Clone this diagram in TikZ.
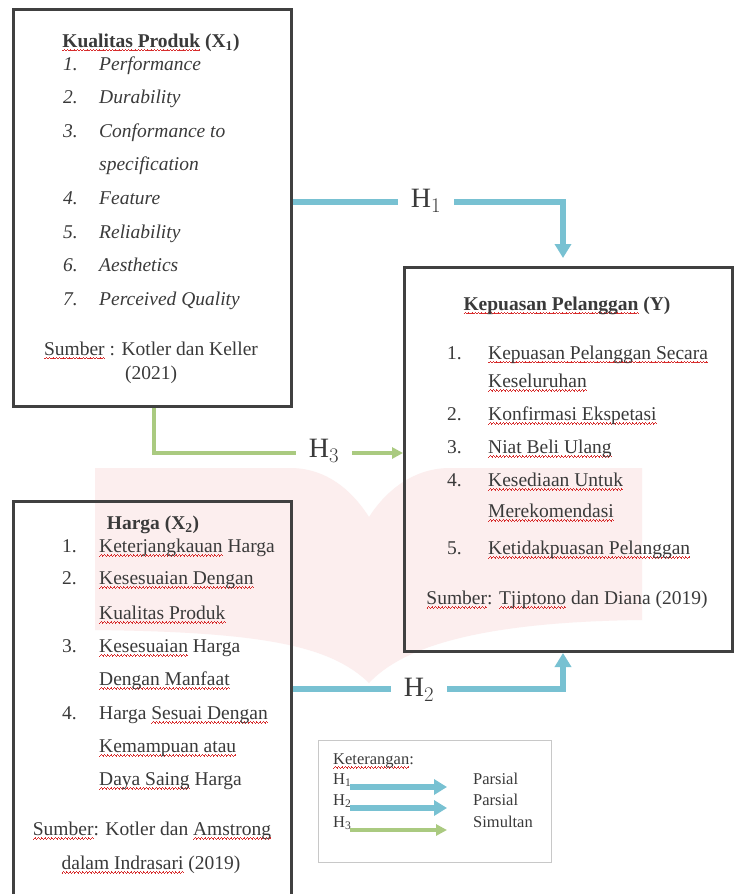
\documentclass[tikz,border=0pt]{standalone}
\usepackage{fontspec}
\setmainfont{Liberation Serif}
\usetikzlibrary{arrows.meta}
\definecolor{txt}{RGB}{58,58,58}
\definecolor{boxc}{RGB}{64,64,64}
\definecolor{hblue}{RGB}{120,193,210}
\definecolor{hgreen}{RGB}{170,202,128}
\definecolor{wm}{RGB}{252,238,238}
\definecolor{sqred}{RGB}{215,45,45}
\definecolor{legc}{RGB}{200,200,200}
\newlength\sqlen
\newcommand\sqpat{\hbox{\rule[-3.8pt]{0.8pt}{0.6pt}\rule[-3.2pt]{0.8pt}{0.6pt}\rule[-2.6pt]{0.8pt}{0.6pt}\rule[-3.2pt]{0.8pt}{0.6pt}}}
\newcommand\sq[1]{\settowidth\sqlen{#1}\leavevmode\rlap{\color{sqred}\hbox to \sqlen{\xleaders\sqpat\hfil}}#1}
\tikzset{
  box/.style={draw=boxc, line width=3pt, anchor=north west, inner sep=0pt},
  itm/.style={anchor=mid west, inner sep=0pt, text=txt, font=\fontsize{19.5}{22}\selectfont},
  itmi/.style={itm, font=\fontsize{19.5}{22}\selectfont\itshape},
  ctr/.style={anchor=mid, inner sep=0pt, text=txt, font=\fontsize{19.5}{22}\selectfont},
  leg/.style={anchor=mid west, inner sep=0pt, text=txt, font=\fontsize{16.5}{19}\selectfont},
  hl/.style={font=\fontsize{28}{32}\selectfont, text=txt, inner xsep=13pt, inner ysep=0pt},
  bline/.style={draw=hblue, line width=6pt},
  gline/.style={draw=hgreen, line width=4pt},
  btip/.style={-{Triangle[width=16pt,length=14pt]}},
  gtip/.style={-{Triangle[width=11pt,length=11pt]}},
}
\begin{document}
\begin{tikzpicture}[x=1pt,y=-1pt]
\useasboundingbox (0,0) rectangle (735,894);
\clip (0,0) rectangle (735,894);
\fill[white] (0,0) rectangle (735,894);
% watermark
\fill[wm] (95,468) -- (290,468) .. controls (330,468) and (355,495) .. (369,517)
  .. controls (383,495) and (410,468) .. (450,468) -- (642,468) -- (642,620)
  .. controls (470,622) and (400,650) .. (369,683)
  .. controls (330,645) and (260,632) .. (95,630) -- cycle;

% boxes
\node[box, minimum width=278pt, minimum height=397pt] (b1) at (12,8) {};
\node[box, minimum width=278pt, minimum height=430pt] (b2) at (12,500) {};
\node[box, minimum width=328pt, minimum height=384pt] (b3) at (403,266) {};

% box 1 text
\node[ctr] (b1t) at (151,45) {\textbf{\sq{Kualitas Produk} (X\textsubscript{1})}};
\node[itmi] (b1n1) at (63,68) {1.};  \node[itmi] (b1i1) at (99,68) {Performance};
\node[itmi] (b1n2) at (63,101) {2.}; \node[itmi] (b1i2) at (99,101) {Durability};
\node[itmi] (b1n3) at (63,135) {3.}; \node[itmi] (b1i3) at (99,135) {Conformance to};
\node[itmi] (b1i3b) at (99,168) {specification};
\node[itmi] (b1n4) at (63,202) {4.}; \node[itmi] (b1i4) at (99,202) {Feature};
\node[itmi] (b1n5) at (63,236) {5.}; \node[itmi] (b1i5) at (99,236) {Reliability};
\node[itmi] (b1n6) at (63,269) {6.}; \node[itmi] (b1i6) at (99,269) {Aesthetics};
\node[itmi] (b1n7) at (63,303) {7.}; \node[itmi] (b1i7) at (99,303) {Perceived Quality};
\node[ctr] (b1s1) at (151,353) {\sq{Sumber} : Kotler dan Keller};
\node[ctr] (b1s2) at (151,377) {(2021)};

% box 3 text
\node[ctr] (b3t) at (567,308) {\textbf{\sq{Kepuasan Pelanggan} (Y)}};
\node[itm] (b3n1) at (447,357) {1.}; \node[itm] (b3i1) at (488,357) {\sq{Kepuasan Pelanggan Secara}};
\node[itm] (b3i1b) at (488,385) {\sq{Keseluruhan}};
\node[itm] (b3n2) at (447,418) {2.}; \node[itm] (b3i2) at (488,418) {\sq{Konfirmasi Ekspetasi}};
\node[itm] (b3n3) at (447,451) {3.}; \node[itm] (b3i3) at (488,451) {\sq{Niat Beli Ulang}};
\node[itm] (b3n4) at (447,484) {4.}; \node[itm] (b3i4) at (488,484) {\sq{Kesediaan Untuk}};
\node[itm] (b3i4b) at (488,515) {\sq{Merekomendasi}};
\node[itm] (b3n5) at (447,552) {5.}; \node[itm] (b3i5) at (488,552) {\sq{Ketidakpuasan Pelanggan}};
\node[ctr] (b3s) at (567,602) {\sq{Sumber}: \sq{Tjiptono} dan Diana (2019)};

% box 2 text
\node[ctr] (b2t) at (153,527) {\textbf{Harga (X\textsubscript{2})}};
\node[itm] (b2n1) at (62,550) {1.}; \node[itm] (b2i1) at (99,550) {\sq{Keterjangkauan} Harga};
\node[itm] (b2n2) at (62,582) {2.}; \node[itm] (b2i2) at (99,582) {\sq{Kesesuaian Dengan}};
\node[itm] (b2i2b) at (99,617) {\sq{Kualitas Produk}};
\node[itm] (b2n3) at (62,650) {3.}; \node[itm] (b2i3) at (99,650) {\sq{Kesesuaian} Harga};
\node[itm] (b2i3b) at (99,683) {\sq{Dengan Manfaat}};
\node[itm] (b2n4) at (62,717) {4.}; \node[itm] (b2i4) at (99,717) {Harga \sq{Sesuai Dengan}};
\node[itm] (b2i4b) at (99,750) {\sq{Kemampuan atau}};
\node[itm] (b2i4c) at (99,783) {\sq{Daya Saing} Harga};
\node[ctr] (b2s1) at (152,833) {\sq{Sumber}: Kotler dan \sq{Amstrong}};
\node[ctr] (b2s2) at (151,867) {\sq{dalam Indrasari} (2019)};

% hypothesis labels
\node[hl] (h1) at (426,201) {$\mathrm{H}_1$};
\node[hl] (h3) at (324,451) {$\mathrm{H}_3$};
\node[hl] (h2) at (419,690) {$\mathrm{H}_2$};

% connectors
\draw[bline] (b1.east |- 0,202) -- (h1.west |- 0,202);
\draw[bline, btip, shorten >=8pt] (h1.east |- 0,202) -| ([xshift=160pt]b3.north west);
\draw[gline] ([xshift=142pt]b1.south west) |- (h3.west |- 0,453);
\draw[gline, gtip] (h3.east |- 0,453) -- (b3.west |- 0,453);
\draw[bline] (b2.east |- 0,689) -- (h2.west |- 0,689);
\draw[bline, btip] (h2.east |- 0,689) -| ([xshift=160pt]b3.south west);

% legend
\node[draw=legc, line width=0.8pt, fill=white, anchor=north west, minimum width=233pt, minimum height=122pt, inner sep=0pt] (lg) at (318,740) {};
\node[leg] (lgt) at (333,762) {\sq{Keterangan}:};
\node[leg] (lh1) at (333,782) {H\textsubscript{1}};
\node[leg] (lh2) at (333,803) {H\textsubscript{2}};
\node[leg] (lh3) at (333,825) {H\textsubscript{3}};
\node[leg] (lp1) at (473,782) {Parsial};
\node[leg] (lp2) at (473,803) {Parsial};
\node[leg] (lp3) at (473,825) {Simultan};
\coordinate (la1s) at (350,787); \coordinate (la1e) at (447,787);
\coordinate (la2s) at (350,808); \coordinate (la2e) at (447,808);
\coordinate (la3s) at (350,830); \coordinate (la3e) at (447,830);
\draw[draw=hblue, line width=6pt, -{Triangle[width=15pt,length=13pt]}] (la1s) -- (la1e);
\draw[draw=hblue, line width=6pt, -{Triangle[width=15pt,length=13pt]}] (la2s) -- (la2e);
\draw[draw=hgreen, line width=4pt, -{Triangle[width=11pt,length=11pt]}] (la3s) -- (la3e);
\end{tikzpicture}
\end{document}
